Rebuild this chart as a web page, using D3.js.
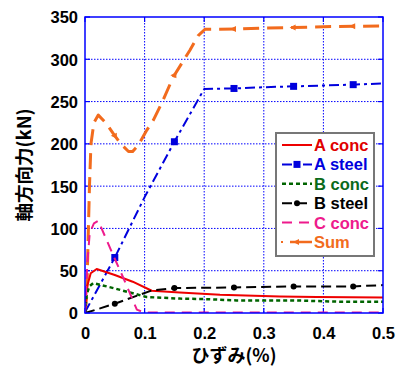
<!DOCTYPE html>
<html><head><meta charset="utf-8">
<script src="https://cdn.jsdelivr.net/npm/d3@7"></script>
<style>
html,body{margin:0;padding:0;background:#fff;}
svg{display:block;}
text{font-family:"Liberation Sans",Arial,sans-serif;font-weight:bold;}
</style></head>
<body>
<svg id="chart" width="396" height="369"></svg>
<script>
// ---- data ----
const xTicks = [0, 0.1, 0.2, 0.3, 0.4, 0.5];
const xTickLabels = ["0", "0.1", "0.2", "0.3", "0.4", "0.5"];
const yTicks = [0, 50, 100, 150, 200, 250, 300, 350];
const seriesNames = ["A conc", "A steel", "B conc", "B steel", "C conc", "Sum"];

const aConcX = [0, 0.003, 0.0096, 0.0196, 0.05, 0.08, 0.112, 0.159, 0.2265, 0.327, 0.389, 0.5];
const aConcY = [0, 30, 47, 52, 45, 37, 26.3, 24.3, 21.6, 19.6, 18.9, 18.4];

const aSteelX = [0, 0.05, 0.1, 0.15, 0.2, 0.25, 0.3, 0.35, 0.4, 0.45, 0.5];
const aSteelY = [1, 65.6, 137, 202.5, 265, 265.5, 267, 268, 269, 270, 271.5];
const aSteelMarkX = [0.05, 0.15, 0.25, 0.35, 0.45];

const bConcX = [0, 0.003, 0.0072, 0.014, 0.05, 0.1035, 0.16, 0.2, 0.254, 0.35, 0.43, 0.5];
const bConcY = [0, 22, 31.4, 35.4, 29, 18.9, 17, 16.5, 14.9, 14.9, 13.3, 13.3];

const bSteelX = [0, 0.003, 0.05, 0.112, 0.15, 0.25, 0.35, 0.45, 0.5];
const bSteelY = [0, 0.5, 11, 26.7, 29.5, 30.2, 31.4, 31.4, 33];
const bSteelMarkX = [0.05, 0.15, 0.25, 0.35, 0.45];

const cConcX = [0, 0.004, 0.008, 0.015, 0.0223, 0.0475, 0.064, 0.087, 0.1, 0.5];
const cConcY = [0, 60, 95, 106, 109, 68, 42, 4, 0.5, 0.5];

const sumX = [0, 0.003, 0.005, 0.0075, 0.01, 0.015, 0.0223, 0.036, 0.0475, 0.06, 0.073, 0.08, 0.0895, 0.1035, 0.1147, 0.13, 0.148, 0.176, 0.19, 0.2013, 0.254, 0.3, 0.35, 0.4, 0.45, 0.5];
const sumY = [0, 20, 80, 150, 200, 225, 234, 224, 212, 200, 191, 191, 198.6, 216, 228, 250, 279, 310.7, 328, 335.5, 335.8, 337, 337.5, 338.5, 339, 339.5];
const sumMarkX = [0.05, 0.15, 0.25, 0.35, 0.45];

// ---- layout ----
const svg = d3.select("#chart");
const L = 85, R = 383, T = 17, B = 313;
const x = d3.scaleLinear().domain([0, 0.5]).range([L, R]);
const y = d3.scaleLinear().domain([0, 350]).range([B, T]);
const gridBlue = "#0000ff";

// grid
const g = svg.append("g");
g.selectAll(".gx").data(xTicks.slice(1, -1)).enter().append("line")
  .attr("x1", d => x(d)).attr("x2", d => x(d)).attr("y1", T).attr("y2", B)
  .attr("stroke", gridBlue).attr("stroke-width", 1).attr("stroke-dasharray", "1.5,1.5");
g.selectAll(".gy").data(yTicks.slice(1, -1)).enter().append("line")
  .attr("y1", d => y(d)).attr("y2", d => y(d)).attr("x1", L).attr("x2", R)
  .attr("stroke", gridBlue).attr("stroke-width", 1).attr("stroke-dasharray", "1.5,1.5");

// axes with labels
const xAxis = d3.axisBottom(x).tickValues(xTicks).tickFormat((d, i) => xTickLabels[i]).tickSize(0).tickPadding(14);
const gx = svg.append("g").attr("transform", `translate(0,${B})`).call(xAxis);
gx.select(".domain").remove();
gx.selectAll("text").attr("font-size", 16.5).attr("fill", "#000").style("font-weight", "bold");

const yAxis = d3.axisLeft(y).tickValues(yTicks).tickSize(0).tickPadding(7);
const gy = svg.append("g").attr("transform", `translate(${L},0)`).call(yAxis);
gy.select(".domain").remove();
gy.selectAll("text").attr("font-size", 16.5).attr("fill", "#000").attr("dy", "0.36em").style("font-weight", "bold");

// inner ticks
const tk = svg.append("g").attr("stroke", gridBlue).attr("stroke-width", 1.2);
yTicks.forEach(v => {
  tk.append("line").attr("x1", L).attr("x2", L + 5).attr("y1", y(v)).attr("y2", y(v));
  tk.append("line").attr("x1", R).attr("x2", R - 5).attr("y1", y(v)).attr("y2", y(v));
});
xTicks.forEach(v => {
  tk.append("line").attr("y1", B).attr("y2", B - 5).attr("x1", x(v)).attr("x2", x(v));
  tk.append("line").attr("y1", T).attr("y2", T + 5).attr("x1", x(v)).attr("x2", x(v));
});

// clip
svg.append("clipPath").attr("id", "clip").append("rect")
  .attr("x", L).attr("y", T - 2).attr("width", R - L).attr("height", B - T + 2);
const plot = svg.append("g").attr("clip-path", "url(#clip)");

const line = d3.line().x(d => x(d[0])).y(d => y(d[1]));
const zip = (xs, ys) => xs.map((v, i) => [v, ys[i]]);
const interp = (xs, ys, v) => {
  for (let i = 1; i < xs.length; i++) if (v <= xs[i]) {
    const t = (v - xs[i - 1]) / (xs[i] - xs[i - 1]); return ys[i - 1] + t * (ys[i] - ys[i - 1]);
  }
  return ys[ys.length - 1];
};

const styles = [
  {name: seriesNames[0], color: "#ee0000", text: "#e00000", w: 2, dash: null, xs: aConcX, ys: aConcY},
  {name: seriesNames[1], color: "#0000dd", text: "#0000dd", w: 2, dash: "10,4,3,4", xs: aSteelX, ys: aSteelY, marks: aSteelMarkX, mk: "square"},
  {name: seriesNames[2], color: "#006400", text: "#0a6a1a", w: 2.5, dash: "4,3", xs: bConcX, ys: bConcY},
  {name: seriesNames[3], color: "#000000", text: "#000000", w: 2, dash: "10,5", xs: bSteelX, ys: bSteelY, marks: bSteelMarkX, mk: "circle"},
  {name: seriesNames[4], color: "#ee1a8c", text: "#ee1a8c", w: 2, dash: "10,7", xs: cConcX, ys: cConcY},
  {name: seriesNames[5], color: "#f26b1d", text: "#f26b1d", w: 3, dash: "16,8", xs: sumX, ys: sumY, marks: sumMarkX, mk: "tri"}
];

function drawMarker(sel, type, cx, cy, color) {
  if (type === "square") sel.append("rect").attr("x", cx - 3.5).attr("y", cy - 3.5).attr("width", 7).attr("height", 7).attr("fill", color);
  else if (type === "circle") sel.append("circle").attr("cx", cx).attr("cy", cy).attr("r", 3).attr("fill", color);
  else if (type === "tri") sel.append("path").attr("d", `M${cx - 4},${cy} L${cx + 2},${cy - 3} L${cx + 2},${cy + 3} Z`).attr("fill", color);
}

const order = [5, 1, 0, 2, 3, 4];
order.forEach(i => {
  const s = styles[i];
  plot.append("path").datum(zip(s.xs, s.ys)).attr("d", line)
    .attr("fill", "none").attr("stroke", s.color).attr("stroke-width", s.w)
    .attr("stroke-dasharray", s.dash).attr("stroke-linejoin", "round");
  if (s.marks) s.marks.forEach(mx => drawMarker(plot, s.mk, x(mx), y(interp(s.xs, s.ys, mx)), s.color));
});

// frame
svg.append("rect").attr("x", L).attr("y", T).attr("width", R - L).attr("height", B - T)
  .attr("fill", "none").attr("stroke", gridBlue).attr("stroke-width", 1.5);

// legend
const lg = svg.append("g");
lg.append("rect").attr("x", 276).attr("y", 133).attr("width", 98).attr("height", 123)
  .attr("fill", "#fff").attr("stroke", "#777").attr("stroke-width", 2);
styles.forEach((s, i) => {
  const yy = 145 + i * 19.4;
  if (s.mk === "tri") {
    lg.append("rect").attr("x", 281).attr("y", yy - 1).attr("width", 2).attr("height", 2).attr("fill", s.color);
    lg.append("line").attr("x1", 290).attr("x2", 312).attr("y1", yy).attr("y2", yy).attr("stroke", s.color).attr("stroke-width", 2.5);
    drawMarker(lg, "tri", 297, yy, s.color);
  } else {
    lg.append("line").attr("x1", 282).attr("x2", 312).attr("y1", yy).attr("y2", yy)
      .attr("stroke", s.color).attr("stroke-width", s.w).attr("stroke-dasharray", s.dash);
    if (s.mk) drawMarker(lg, s.mk, 297, yy, s.color);
  }
  lg.append("text").attr("x", 314).attr("y", yy).attr("dy", "0.36em").attr("font-size", 16.5)
    .attr("fill", s.text).text(s.name);
});

// axis titles
svg.append("text").attr("x", (L + R) / 2).attr("y", 362).attr("text-anchor", "middle")
  .attr("font-size", 18).style("font-family", "'Noto Sans CJK JP', sans-serif").text("ひずみ(%)");
svg.append("text").attr("transform", `translate(31,${(T + B) / 2}) rotate(-90)`).attr("text-anchor", "middle")
  .attr("font-size", 18.5).style("font-family", "'Noto Sans CJK JP', sans-serif").text("軸方向力(kN)");
</script>
</body></html>
